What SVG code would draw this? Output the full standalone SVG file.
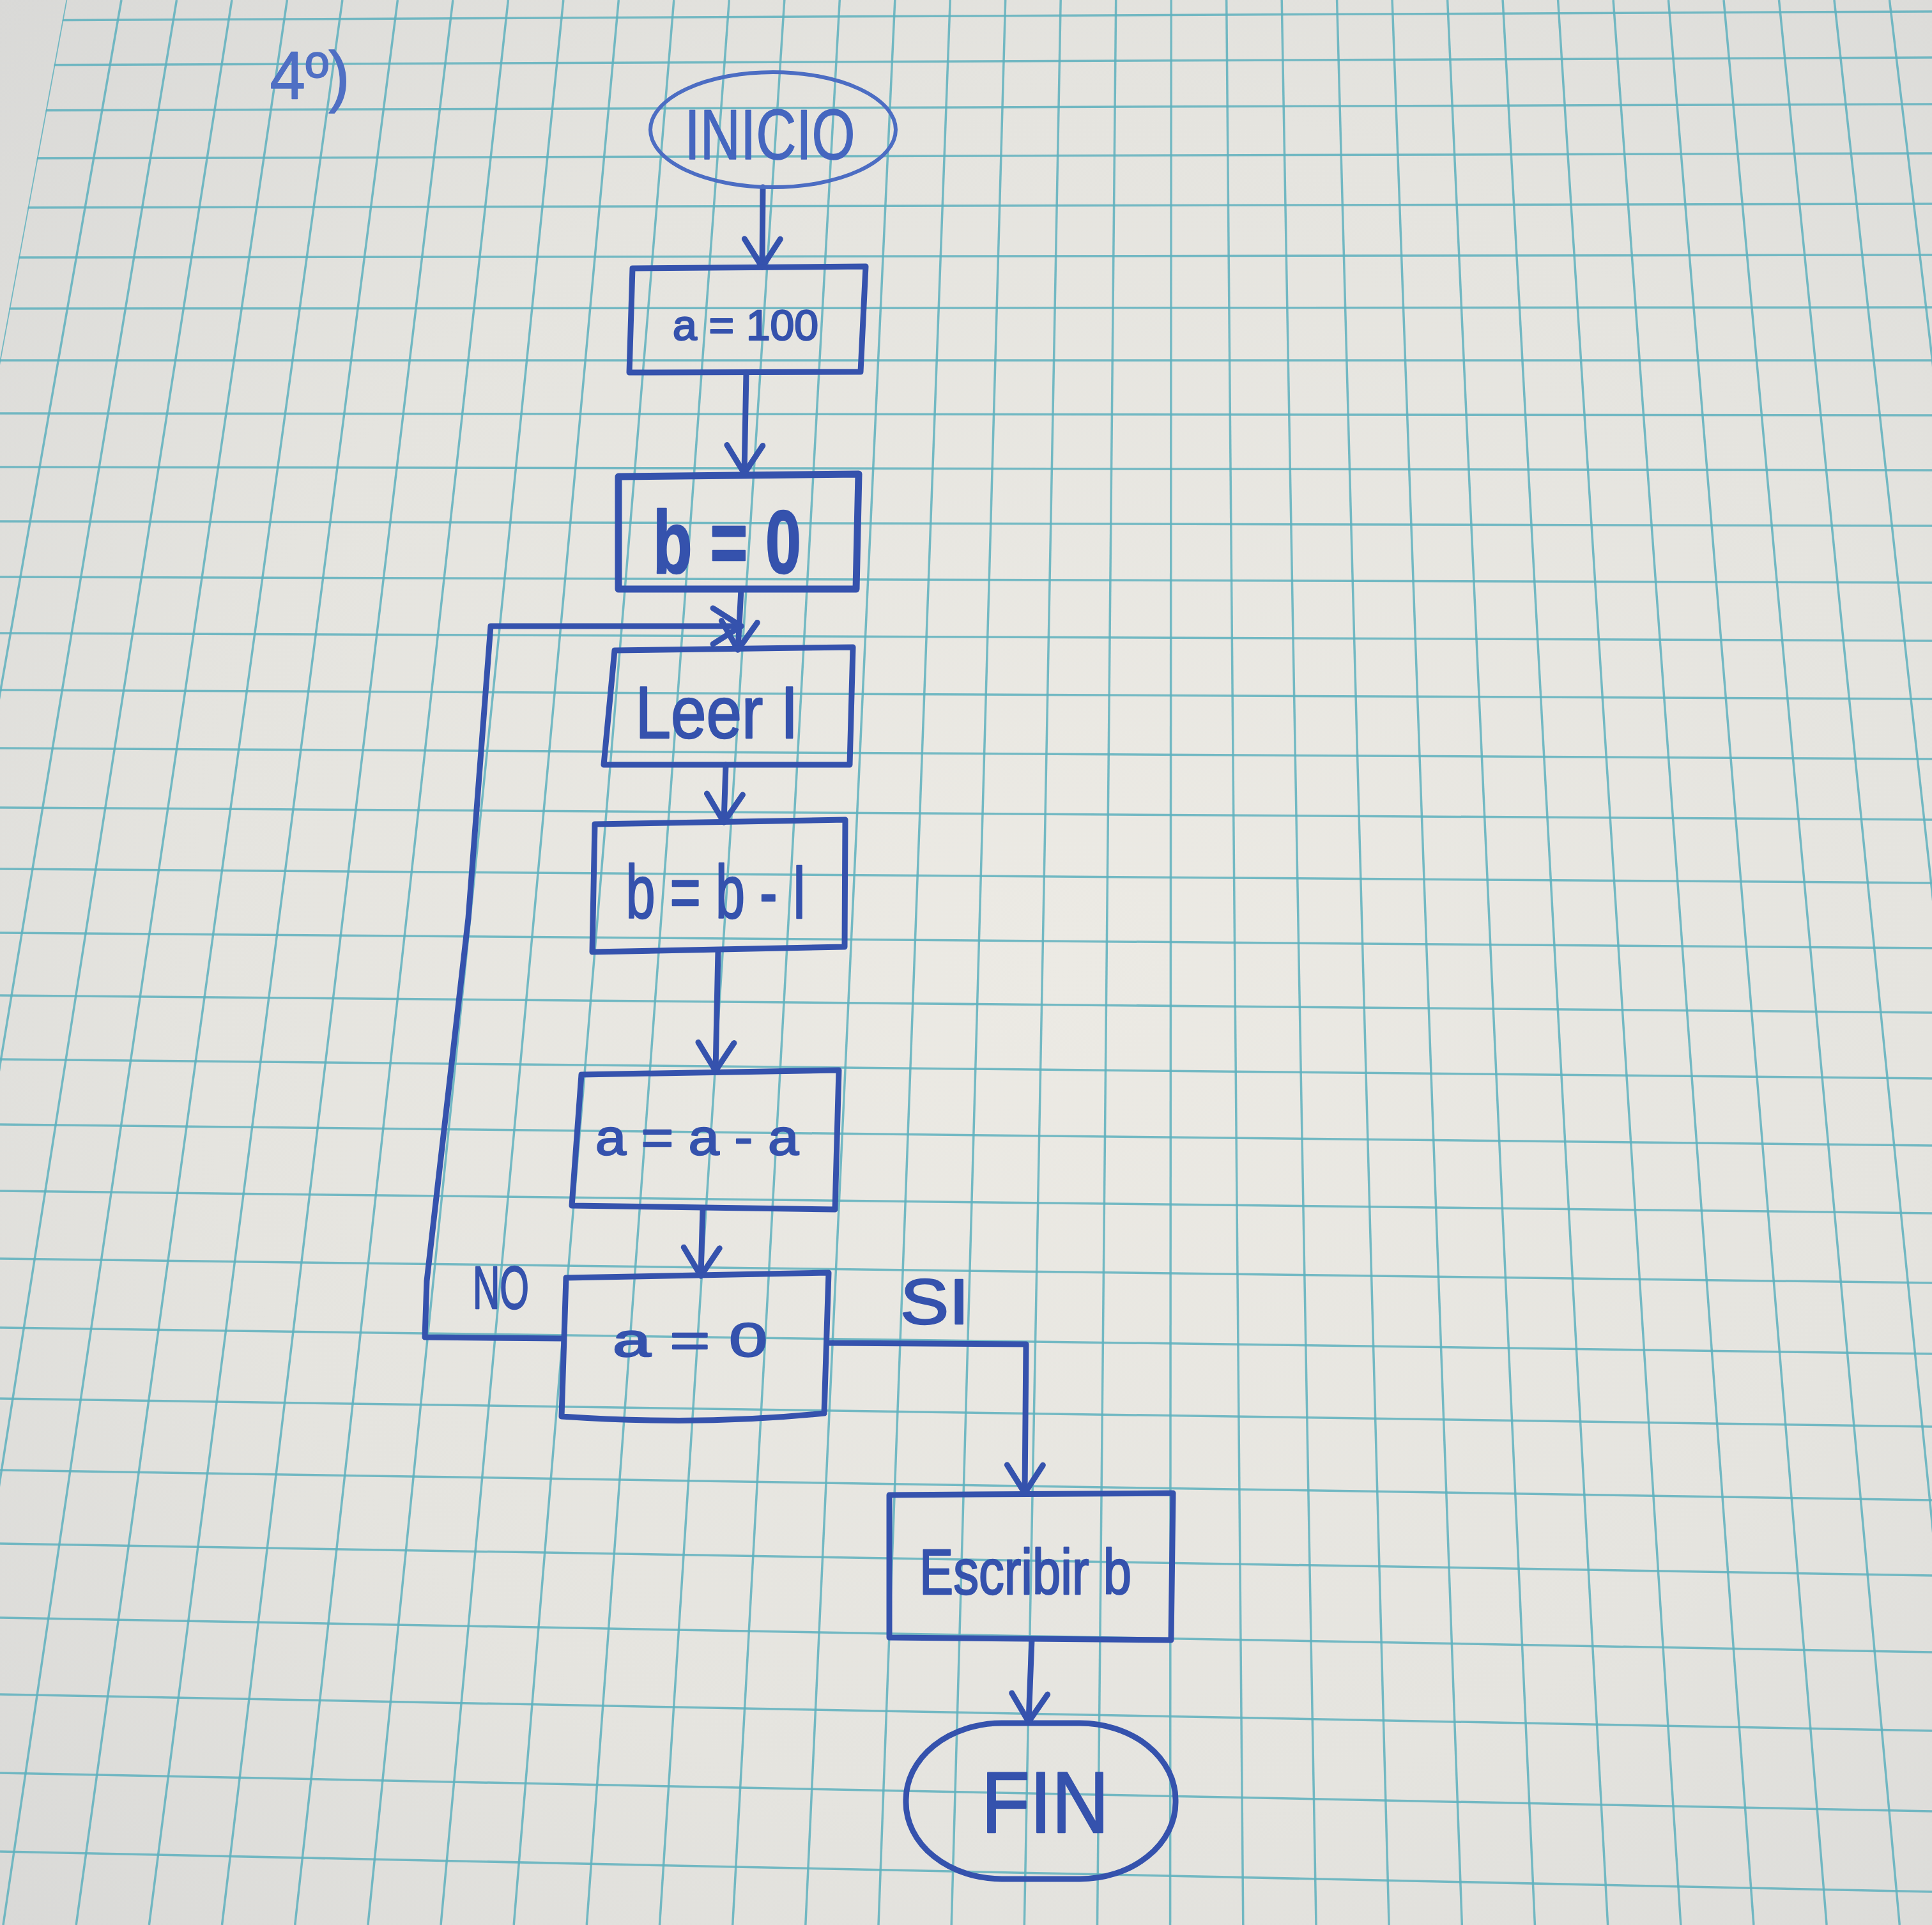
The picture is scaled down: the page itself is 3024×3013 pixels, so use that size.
<svg xmlns="http://www.w3.org/2000/svg" width="3024" height="3013" viewBox="0 0 3024 3013">
<style>
.ink{fill:none;stroke:#3552ad;stroke-width:9;stroke-linejoin:round;stroke-linecap:round}
.thick{stroke-width:11}
.light{stroke:#4c6dc3;stroke-width:6}
.grid line{stroke:#5eb0bd;stroke-width:3.5;stroke-opacity:0.85}
.t{font-family:"Liberation Sans",Arial,sans-serif;fill:#3552ad;text-anchor:middle;stroke:#3552ad;stroke-width:2.5;stroke-linejoin:round}
</style>
<defs>
<radialGradient id="paper" cx="0.55" cy="0.5" r="0.75">
<stop offset="0" stop-color="#ecEAE4"/>
<stop offset="0.6" stop-color="#e5e4df"/>
<stop offset="1" stop-color="#d9d9d7"/>
</radialGradient>
<clipPath id="gclip"><polygon points="103.5,0 3024,0 3024,3013 -451.6,3013"/></clipPath>
<marker id="ah" markerUnits="userSpaceOnUse" markerWidth="120" markerHeight="120" viewBox="-60 -60 120 120" refX="0" refY="0" orient="auto" overflow="visible">
<path d="M -44 -28 L 0 0 L -44 28" fill="none" stroke="#3552ad" stroke-width="9" stroke-linecap="round" stroke-linejoin="round"/>
</marker>
</defs>
<rect x="0" y="0" width="3024" height="3013" fill="url(#paper)"/>
<g class="grid" clip-path="url(#gclip)">
<line x1="103.5" y1="0" x2="-451.6" y2="3013"/>
<line x1="190.0" y1="0" x2="-337.4" y2="3013"/>
<line x1="276.5" y1="0" x2="-223.3" y2="3013"/>
<line x1="362.9" y1="0" x2="-109.1" y2="3013"/>
<line x1="449.4" y1="0" x2="5.0" y2="3013"/>
<line x1="535.9" y1="0" x2="119.2" y2="3013"/>
<line x1="622.4" y1="0" x2="233.4" y2="3013"/>
<line x1="708.9" y1="0" x2="347.5" y2="3013"/>
<line x1="795.4" y1="0" x2="461.7" y2="3013"/>
<line x1="881.8" y1="0" x2="575.9" y2="3013"/>
<line x1="968.3" y1="0" x2="690.0" y2="3013"/>
<line x1="1054.8" y1="0" x2="804.2" y2="3013"/>
<line x1="1141.3" y1="0" x2="918.3" y2="3013"/>
<line x1="1227.8" y1="0" x2="1032.5" y2="3013"/>
<line x1="1314.3" y1="0" x2="1146.7" y2="3013"/>
<line x1="1400.8" y1="0" x2="1260.8" y2="3013"/>
<line x1="1487.2" y1="0" x2="1375.0" y2="3013"/>
<line x1="1573.7" y1="0" x2="1489.2" y2="3013"/>
<line x1="1660.2" y1="0" x2="1603.3" y2="3013"/>
<line x1="1746.7" y1="0" x2="1717.5" y2="3013"/>
<line x1="1833.2" y1="0" x2="1831.6" y2="3013"/>
<line x1="1919.7" y1="0" x2="1945.8" y2="3013"/>
<line x1="2006.2" y1="0" x2="2060.0" y2="3013"/>
<line x1="2092.6" y1="0" x2="2174.1" y2="3013"/>
<line x1="2179.1" y1="0" x2="2288.3" y2="3013"/>
<line x1="2265.6" y1="0" x2="2402.4" y2="3013"/>
<line x1="2352.1" y1="0" x2="2516.6" y2="3013"/>
<line x1="2438.6" y1="0" x2="2630.8" y2="3013"/>
<line x1="2525.1" y1="0" x2="2744.9" y2="3013"/>
<line x1="2611.5" y1="0" x2="2859.1" y2="3013"/>
<line x1="2698.0" y1="0" x2="2973.3" y2="3013"/>
<line x1="2784.5" y1="0" x2="3087.4" y2="3013"/>
<line x1="2871.0" y1="0" x2="3201.6" y2="3013"/>
<line x1="2957.5" y1="0" x2="3315.7" y2="3013"/>
<line x1="0" y1="-45" x2="3024" y2="-61"/>
<line x1="0" y1="32" x2="3024" y2="18"/>
<line x1="0" y1="102" x2="3024" y2="90"/>
<line x1="0" y1="173" x2="3024" y2="163"/>
<line x1="0" y1="248" x2="3024" y2="240"/>
<line x1="0" y1="325" x2="3024" y2="319"/>
<line x1="0" y1="403" x2="3024" y2="399"/>
<line x1="0" y1="483" x2="3024" y2="481"/>
<line x1="0" y1="564" x2="3024" y2="564"/>
<line x1="0" y1="647" x2="3024" y2="650"/>
<line x1="0" y1="731" x2="3024" y2="736"/>
<line x1="0" y1="816" x2="3024" y2="823"/>
<line x1="0" y1="903" x2="3024" y2="912"/>
<line x1="0" y1="991" x2="3024" y2="1003"/>
<line x1="0" y1="1080" x2="3024" y2="1094"/>
<line x1="0" y1="1171" x2="3024" y2="1188"/>
<line x1="0" y1="1264" x2="3024" y2="1283"/>
<line x1="0" y1="1360" x2="3024" y2="1382"/>
<line x1="0" y1="1460" x2="3024" y2="1484"/>
<line x1="0" y1="1558" x2="3024" y2="1585"/>
<line x1="0" y1="1658" x2="3024" y2="1688"/>
<line x1="0" y1="1760" x2="3024" y2="1793"/>
<line x1="0" y1="1864" x2="3024" y2="1899"/>
<line x1="0" y1="1970" x2="3024" y2="2008"/>
<line x1="0" y1="2078" x2="3024" y2="2119"/>
<line x1="0" y1="2189" x2="3024" y2="2233"/>
<line x1="0" y1="2301" x2="3024" y2="2348"/>
<line x1="0" y1="2416" x2="3024" y2="2466"/>
<line x1="0" y1="2532" x2="3024" y2="2586"/>
<line x1="0" y1="2652" x2="3024" y2="2709"/>
<line x1="0" y1="2775" x2="3024" y2="2835"/>
<line x1="0" y1="2898" x2="3024" y2="2961"/>
<line x1="0" y1="3021" x2="3024" y2="3088"/>
</g>
<text class="t" x="485" y="155" font-size="105" textLength="125" lengthAdjust="spacingAndGlyphs" style="fill:#4f6fc4;stroke:#4f6fc4;stroke-width:1.5">4º)</text>
<g id="connectors">
<path class="ink" d="M 1194 293 L 1193 418" marker-end="url(#ah)"/>
<path class="ink" d="M 1168 583 L 1165 741" marker-end="url(#ah)"/>
<path class="ink" d="M 1160 922 L 1155 1017" marker-end="url(#ah)"/>
<path class="ink" d="M 1136 1197 L 1133 1287" marker-end="url(#ah)"/>
<path class="ink" d="M 1124 1488 L 1120 1676" marker-end="url(#ah)"/>
<path class="ink" d="M 1100 1891 L 1097 1997" marker-end="url(#ah)"/>
<path class="ink" d="M 882 2095 L 665 2093 L 668 2005 L 733 1437 L 768 980 L 1160 980" marker-end="url(#ah)"/>
<path class="ink" d="M 1297 2102 L 1606 2104 L 1604 2337" marker-end="url(#ah)"/>
<path class="ink" d="M 1615 2566 L 1610 2695" marker-end="url(#ah)"/>
<text class="t" x="784" y="2048" font-size="95" textLength="88" lengthAdjust="spacingAndGlyphs">NO</text>
<text class="t" x="1463" y="2072" font-size="100" textLength="108" lengthAdjust="spacingAndGlyphs">SI</text>
</g>
<g id="inicio">
<ellipse class="ink light" cx="1210" cy="203" rx="192" ry="90"/>
<text class="t" x="1205" y="249" font-size="112" textLength="267" lengthAdjust="spacingAndGlyphs" style="fill:#4566bf;stroke:#4566bf;stroke-width:1.5">INICIO</text>
</g>
<g id="a100">
<path class="ink" d="M 990 420 L 1355 417 L 1347 582 L 985 583 Z"/>
<text class="t" x="1167" y="532" font-size="66" textLength="228" lengthAdjust="spacingAndGlyphs">a = 100</text>
</g>
<g id="b0">
<path class="ink thick" d="M 968 746 L 1344 742 L 1340 922 L 968 922 Z"/>
<text class="t" x="1138" y="897" font-size="140" font-weight="bold" textLength="232" lengthAdjust="spacingAndGlyphs">b = 0</text>
</g>
<g id="leer">
<path class="ink" d="M 962 1018 L 1335 1013 L 1330 1197 L 945 1197 Z"/>
<text class="t" x="1122" y="1155" font-size="115" textLength="255" lengthAdjust="spacingAndGlyphs">Leer I</text>
</g>
<g id="bbi">
<path class="ink" d="M 931 1290 L 1323 1283 L 1322 1482 L 927 1490 Z"/>
<text class="t" x="1121" y="1437" font-size="118" textLength="283" lengthAdjust="spacingAndGlyphs">b = b - I</text>
</g>
<g id="aaa">
<path class="ink" d="M 910 1682 L 1313 1675 L 1307 1893 L 895 1887 Z"/>
<text class="t" x="1091" y="1807" font-size="77" textLength="318" lengthAdjust="spacingAndGlyphs">a = a - a</text>
</g>
<g id="a0">
<path class="ink" d="M 886 2000 L 1297 1992 L 1290 2212 Q 1100 2232 879 2217 Z"/>
<text class="t" x="1080" y="2123" font-size="75" textLength="242" lengthAdjust="spacingAndGlyphs">a = 0</text>
</g>
<g id="escribir">
<path class="ink" d="M 1392 2340 L 1836 2337 L 1833 2567 L 1392 2563 Z"/>
<text class="t" x="1605" y="2495" font-size="100" textLength="332" lengthAdjust="spacingAndGlyphs">Escribir b</text>
</g>
<g id="fin">
<rect class="ink" x="1418" y="2697" width="422" height="244" rx="150" ry="120"/>
<text class="t" x="1636" y="2868" font-size="135" textLength="200" lengthAdjust="spacingAndGlyphs">FIN</text>
</g>
</svg>
